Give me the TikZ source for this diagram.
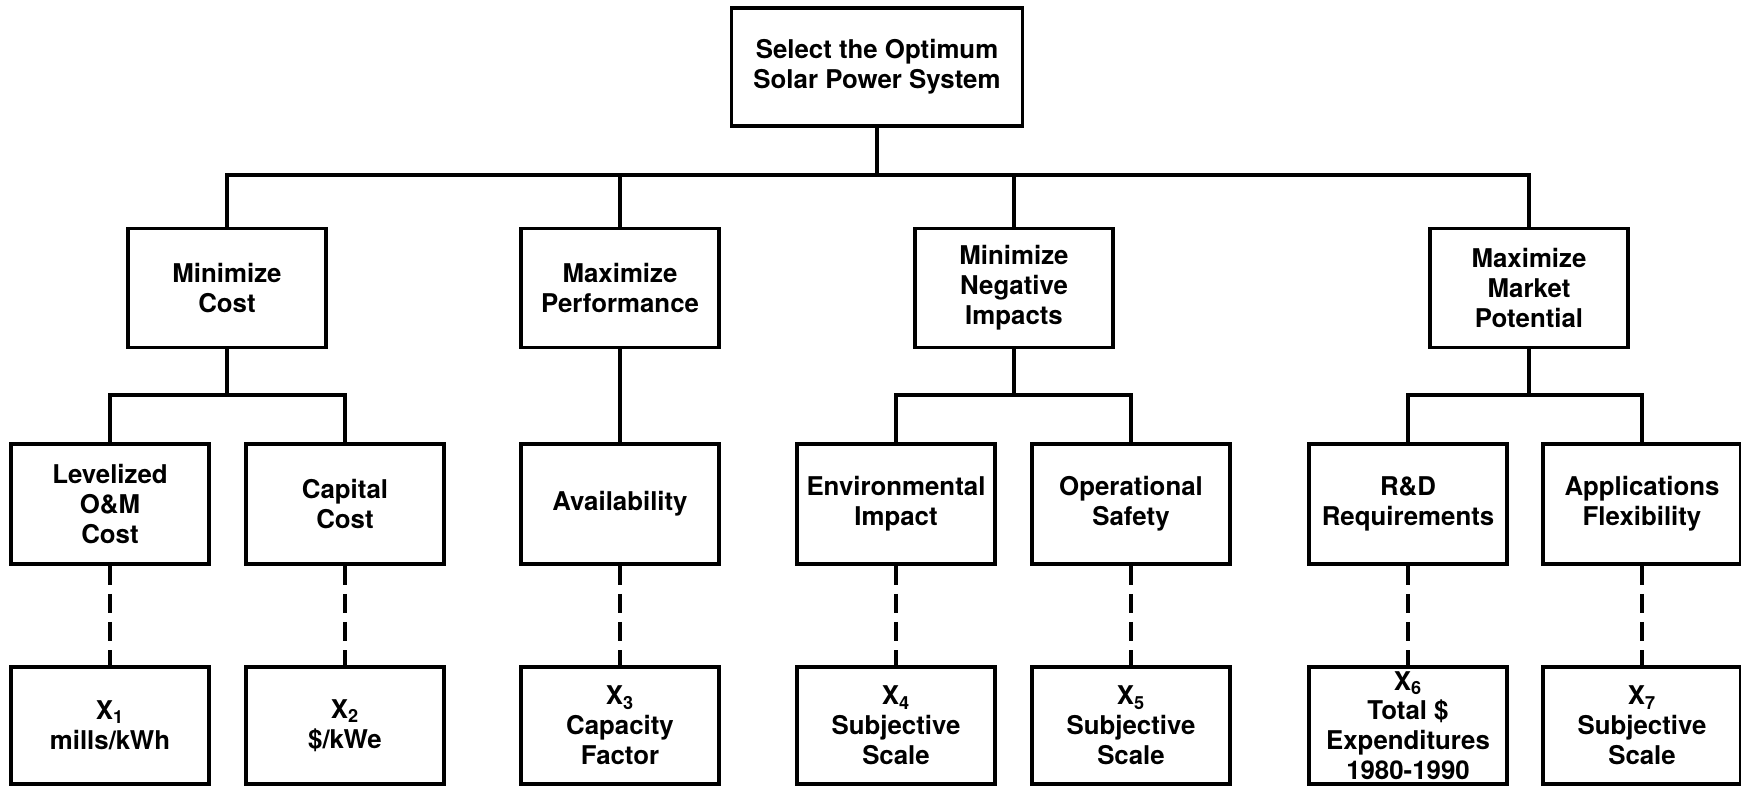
\documentclass[tikz,border=0pt]{standalone}
\usepackage{fontspec}
\setmainfont{TeX Gyre Heros}
\newcommand{\xvar}[1]{X\textsubscript{#1}}
\begin{document}
\begin{tikzpicture}[x=0.02cm, y=-0.02cm,
    every node/.style={font=\bfseries\fontsize{14.7}{17}\selectfont},
    box/.style={draw, line width=2pt, align=center, inner sep=0pt,
      minimum width=3.96cm, minimum height=2.38cm},
    link/.style={line width=2pt},
    dashlink/.style={line width=2pt, dash pattern=on 11pt off 5pt}]
  \useasboundingbox (0,0) rectangle (1741,785);

  % --- objetivo geral ---
  \node[box, minimum width=5.82cm, minimum height=2.36cm] (goal) at (877,67)
    {Select the Optimum\\Solar Power System};

  % --- objetivos ---
  \node[box] (cost) at (227,288) {Minimize\\Cost};
  \node[box] (perf) at (620,288) {Maximize\\Performance};
  \node[box] (neg)  at (1014,288) {Minimize\\Negative\\Impacts};
  \node[box] (mkt)  at (1529,288) {Maximize\\Market\\Potential};

  % --- atributos ---
  \node[box, minimum height=2.4cm] (lev)   at (110,504)  {Levelized\\O\&M\\Cost};
  \node[box, minimum height=2.4cm] (cap)   at (345,504)  {Capital\\Cost};
  \node[box, minimum height=2.4cm] (avail) at (620,504)  {Availability};
  \node[box, minimum height=2.4cm] (env)   at (896,504)  {Environmental\\Impact};
  \node[box, minimum height=2.4cm] (safe)  at (1131,504) {Operational\\Safety};
  \node[box, minimum height=2.4cm] (rd)    at (1408,504) {R\&D\\Requirements};
  \node[box, minimum height=2.4cm] (flex)  at (1642,504) {Applications\\Flexibility};

  % --- medidas ---
  \node[box, minimum height=2.34cm] (x1) at (110,725.5)  {\xvar{1}\\mills/kWh};
  \node[box, minimum height=2.34cm] (x2) at (345,725.5)  {\xvar{2}\\\$/kWe};
  \node[box, minimum height=2.34cm] (x3) at (620,725.5)  {\xvar{3}\\Capacity\\Factor};
  \node[box, minimum height=2.34cm] (x4) at (896,725.5)  {\xvar{4}\\Subjective\\Scale};
  \node[box, minimum height=2.34cm] (x5) at (1131,725.5) {\xvar{5}\\Subjective\\Scale};
  \node[box, minimum height=2.34cm] (x6) at (1408,725.5) {\xvar{6}\\Total \$\\Expenditures\\1980-1990};
  \node[box, minimum height=2.34cm] (x7) at (1642,725.5) {\xvar{7}\\Subjective\\Scale};

  % --- ligacoes ---
  \coordinate (bar1) at (0,175);
  \coordinate (bar2) at (0,395);
  \draw[link] (goal.south) -- (goal.south |- bar1);
  \draw[link] (cost.north) |- (mkt.north |- bar1) -- (mkt.north);
  \foreach \n in {perf,neg}
    \draw[link] (\n.north) -- (\n.north |- bar1);

  \foreach \p in {cost,neg,mkt}
    \draw[link] (\p.south) -- (\p.south |- bar2);
  \draw[link] (lev.north) |- (cap.north |- bar2) -- (cap.north);
  \draw[link] (env.north) |- (safe.north |- bar2) -- (safe.north);
  \draw[link] (rd.north) |- (flex.north |- bar2) -- (flex.north);
  \draw[link] (perf.south) -- (avail.north);

  \foreach \a/\b in {lev/x1, cap/x2, avail/x3, env/x4, safe/x5, rd/x6, flex/x7}
    \draw[dashlink] (\a.south) -- (\b.north);
\end{tikzpicture}
\end{document}
